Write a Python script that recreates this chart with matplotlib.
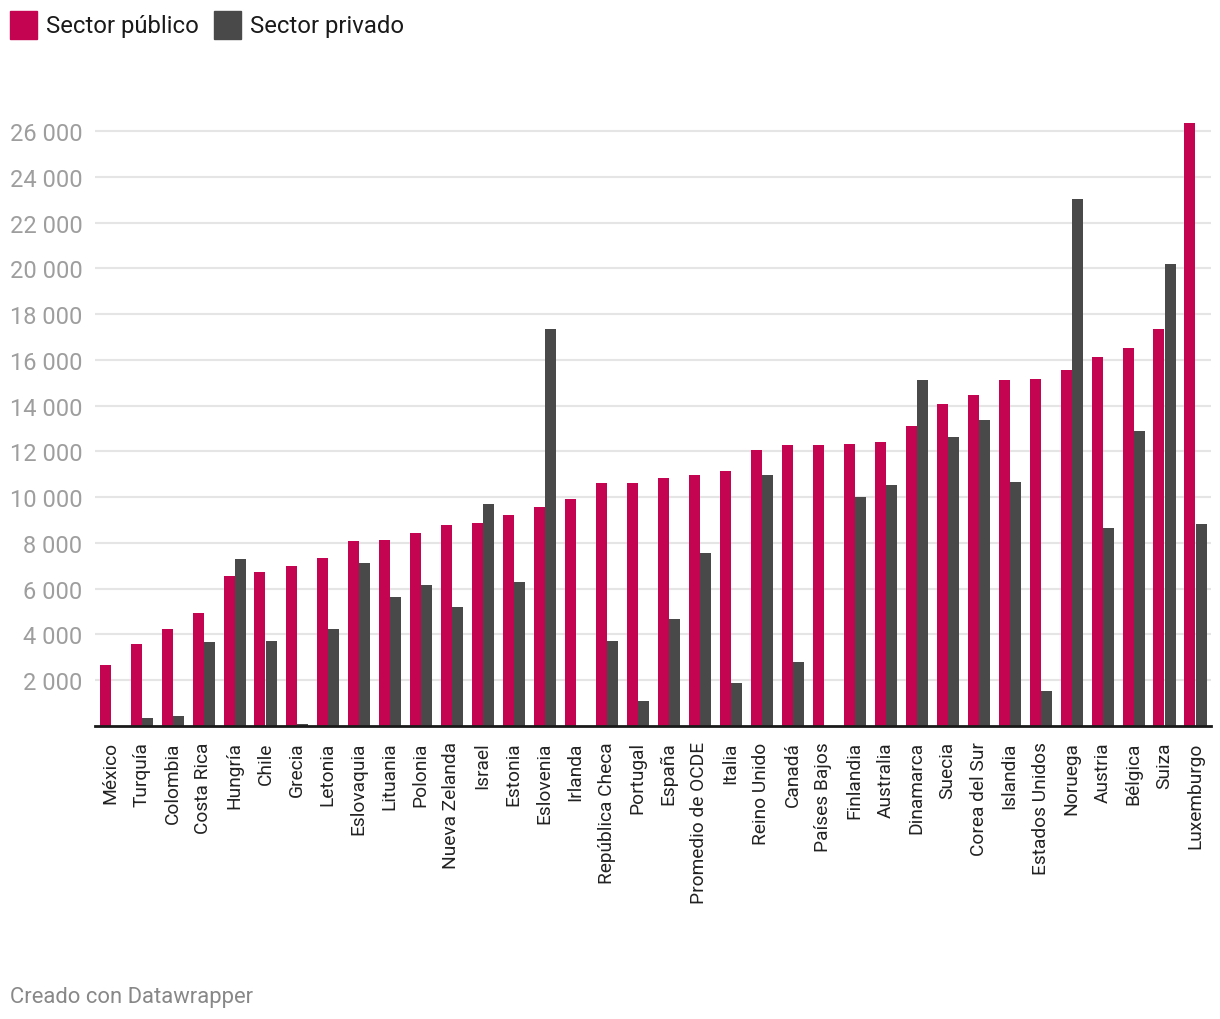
import numpy as np
import matplotlib.pyplot as plt
from matplotlib.patches import Rectangle
from matplotlib.ticker import FuncFormatter

plt.rcParams['font.family'] = ['Roboto', 'DejaVu Sans']

countries = ['México', 'Turquía', 'Colombia', 'Costa Rica', 'Hungría', 'Chile',
             'Grecia', 'Letonia', 'Eslovaquia', 'Lituania', 'Polonia',
             'Nueva Zelanda', 'Israel', 'Estonia', 'Eslovenia', 'Irlanda',
             'República Checa', 'Portugal', 'España', 'Promedio de OCDE',
             'Italia', 'Reino Unido', 'Canadá', 'Países Bajos', 'Finlandia',
             'Australia', 'Dinamarca', 'Suecia', 'Corea del Sur', 'Islandia',
             'Estados Unidos', 'Noruega', 'Austria', 'Bélgica', 'Suiza',
             'Luxemburgo']

publico = [2680, 3590, 4240, 4940, 6560, 6730, 7000, 7350, 8090, 8140, 8450,
           8800, 8850, 9240, 9550, 9900, 10600, 10640, 10820, 10950, 11160,
           12040, 12260, 12300, 12340, 12390, 13120, 14090, 14480, 15140,
           15180, 15540, 16110, 16500, 17340, 26340]

privado = [0, 350, 440, 3670, 7300, 3710, 90, 4240, 7140, 5640, 6180,
           5220, 9680, 6310, 17330, 0, 3730, 1110, 4690, 7580, 1900,
           10950, 2810, 0, 10020, 10550, 15110, 12640, 13360, 10680,
           1540, 23020, 8660, 12910, 20180, 8840]

y_ticks = list(range(2000, 26001, 2000))

c_pub = '#c40451'
c_priv = '#494949'

W, H = 1220, 1020
fig = plt.figure(figsize=(W / 100, H / 100), dpi=100)

# axes placed in pixel terms: baseline at y=727, 2000 units = 45.77 px
ymax = 27000
base_px = 727
top_px = base_px - ymax / 2000 * 45.77
left_px, right_px = 95, 1211
ax = fig.add_axes([left_px / W, (H - base_px) / H,
                   (right_px - left_px) / W, (base_px - top_px) / H])

x = np.arange(len(countries))
bw = 11 / 31
ax.bar(x - bw / 2, publico, width=bw, color=c_pub, zorder=3)
ax.bar(x + bw / 2, privado, width=bw, color=c_priv, zorder=3)

ax.set_xlim(-0.5, len(countries) - 0.5)
ax.set_ylim(0, ymax)

ax.set_yticks(y_ticks)
ax.yaxis.set_major_formatter(FuncFormatter(lambda v, p: f'{int(v):,}'.replace(',', ' ')))
ax.yaxis.grid(True, color='#e5e5e5', linewidth=1.5, zorder=0)
ax.tick_params(axis='y', length=0, pad=9, labelsize=17, labelcolor='#9e9e9e')

ax.set_xticks(x)
ax.set_xticklabels(countries, rotation=90, va='top', ha='center')
ax.tick_params(axis='x', length=0, pad=11, labelsize=13.8, labelcolor='#222222')

for s in ['top', 'right', 'left']:
    ax.spines[s].set_visible(False)
ax.spines['bottom'].set_color('#1a1a1a')
ax.spines['bottom'].set_linewidth(2)
ax.spines['bottom'].set_zorder(4)

# legend
for sx, col, lab in [(10, c_pub, 'Sector público'), (214, c_priv, 'Sector privado')]:
    fig.patches.append(Rectangle((sx / W, (H - 40) / H), 27 / W, 28 / H,
                                 transform=fig.transFigure, color=col))
    fig.text((sx + 36) / W, (H - 27) / H, lab, fontsize=17.2, color='#1a1a1a',
             va='center', ha='left')

fig.text(10 / W, (H - 998) / H, 'Creado con Datawrapper', fontsize=15.8,
         color='#888888', va='center', ha='left')

fig.savefig('out.png', dpi=100)
